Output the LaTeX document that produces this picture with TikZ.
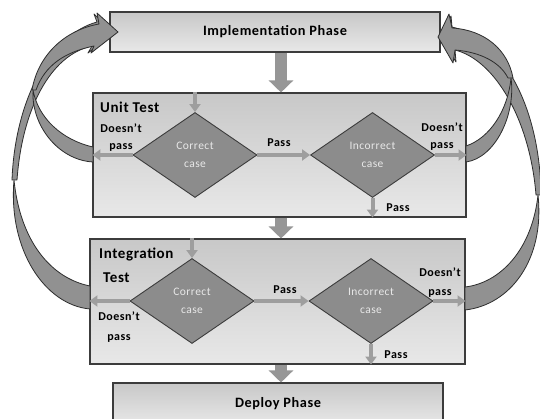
\documentclass[tikz,border=0pt]{standalone}
\usepackage{fontspec}
\setmainfont{Carlito}[LetterSpace=4]
\usetikzlibrary{shapes.geometric,arrows.meta}
\definecolor{boxline}{RGB}{60,60,60}
\definecolor{boxtop}{RGB}{200,200,200}
\definecolor{boxbot}{RGB}{232,232,232}
\definecolor{diafill}{RGB}{140,140,140}
\definecolor{diatext}{RGB}{232,232,232}
\definecolor{smallarr}{RGB}{158,158,158}
\definecolor{curvefill}{RGB}{145,145,145}
\definecolor{curveline}{RGB}{45,45,45}
\definecolor{blockfill}{RGB}{150,150,150}
\begin{document}
\begin{tikzpicture}[x=1pt,y=-1pt,
 phasebox/.style={draw=boxline, line width=1.1pt, top color=boxtop, bottom color=boxbot, minimum width=330pt, minimum height=40pt, inner sep=0pt, font=\fontsize{14.3}{16}\selectfont\bfseries},
 testbox/.style={draw=boxline, line width=1.1pt, top color=boxtop, bottom color=boxbot, inner sep=0pt},
 decision/.style={diamond, draw=boxline, line width=0.9pt, fill=diafill, minimum width=124pt, minimum height=85pt, aspect=1.46, inner sep=0pt, align=center, text=diatext, font=\fontsize{11.5}{18}\selectfont},
 lbl/.style={font=\fontsize{12}{17}\selectfont\bfseries, inner sep=0pt, align=center},
 ttl/.style={font=\fontsize{15}{17}\selectfont\bfseries, inner sep=0pt, anchor=west},
 flow/.style={draw=smallarr, line width=4pt, -{Triangle[width=11pt,length=8pt]}},
 blockarr/.style={draw=blockfill, line width=12pt, -{Triangle[width=24pt,length=12pt]}},
 curved/.style={fill=curvefill, draw=curveline, line width=0.8pt, line join=round}]
\clip (0,0) rectangle (540,419);
\fill[white] (0,0) rectangle (540,419);

% boxes
\node[phasebox] (impl) at (275,32) {Implementation Phase};
\node[testbox, minimum width=373pt, minimum height=124pt] (unit) at (279.5,155) {};
\node[testbox, minimum width=375pt, minimum height=125pt] (integ) at (277.5,301.5) {};
\node[phasebox, minimum height=42pt] (deploy) at (278,404) {Deploy Phase};

% curved return arrows (left)
\path[curved] (12,180) .. controls (15,100) and (50,35) .. (97,22) -- (94,14) -- (114,33) -- (88,53) -- (92,46) .. controls (50,55) and (22,110) .. (17,180) -- cycle;
\path[curved] (90,286) .. controls (50,278) and (20,240) .. (14,180) .. controls (8,250) and (45,305) .. (90,309) -- cycle;
\path[curved] (32,90) .. controls (38,55) and (65,30) .. (99,24) -- (97,13) -- (118,32) -- (91,53) -- (94,46) .. controls (65,52) and (45,65) .. (36,90) -- cycle;
\path[curved] (93,147) .. controls (62,140) and (38,118) .. (33,90) .. controls (31,125) and (58,160) .. (93,162) -- cycle;

% curved return arrows (right)
\path[curved] (541,195) .. controls (540,110) and (505,40) .. (452,27) -- (451,16) -- (441,38) -- (456,62) -- (455,50) .. controls (495,60) and (530,120) .. (536,195) -- cycle;
\path[curved] (465,287) .. controls (500,283) and (532,250) .. (538,195) .. controls (545,260) and (510,305) .. (465,310) -- cycle;
\path[curved] (513,78) .. controls (508,50) and (485,30) .. (452,28) -- (449,14) -- (438,37) -- (453,63) -- (455,50) .. controls (480,52) and (500,62) .. (508,78) -- cycle;
\path[curved] (466,146) .. controls (490,138) and (508,110) .. (511,78) .. controls (516,115) and (495,158) .. (466,162) -- cycle;

% block arrows between phases
\draw[blockarr] ([xshift=6pt]impl.south) -- ([xshift=1.5pt]unit.north);
\draw[blockarr] ([xshift=1.5pt]unit.south) -- ([xshift=3.5pt]integ.north);
\draw[blockarr] ([xshift=3.5pt]integ.south) -- ([xshift=3pt]deploy.north);

% decisions
\node[decision] (uc) at (195,155) {Correct\\case};
\node[decision] (ui) at (372.5,155) {Incorrect\\case};
\node[decision] (ic) at (192,301) {Correct\\case};
\node[decision] (ii) at (371,301) {Incorrect\\case};

% flows unit test
\draw[flow] (uc.north |- unit.north) -- (uc.north);
\draw[flow] (uc.west) -- (uc.west -| unit.west);
\draw[flow] (uc.east) -- (ui.west);
\draw[flow] (ui.east) -- (ui.east -| unit.east);
\draw[flow] (ui.south) -- (ui.south |- unit.south);
% flows integration test
\draw[flow] (ic.north |- integ.north) -- (ic.north);
\draw[flow] (ic.west) -- (ic.west -| integ.west);
\draw[flow] (ic.east) -- (ii.west);
\draw[flow] (ii.east) -- (ii.east -| integ.east);
\draw[flow] (ii.south) -- (ii.south |- integ.south);

% labels
\node[ttl] (ut) at (100,107) {Unit Test};
\node[lbl] (udl) at (121,137.5) {Doesn’t\\pass};
\node[lbl] (up1) at (279,143) {Pass};
\node[lbl] (udr) at (442,136.5) {Doesn’t\\pass};
\node[lbl] (up2) at (398,208) {Pass};

\node[ttl] (it1) at (99,254) {Integration};
\node[ttl] (it2) at (103,278) {Test};
\node[lbl] (idl) at (119,327) {Doesn’t\\[3pt]pass};
\node[lbl] (ip1) at (285,290) {Pass};
\node[lbl] (idr) at (440,282.5) {Doesn’t\\[2pt]pass};
\node[lbl] (ip2) at (396,355) {Pass};
\end{tikzpicture}
\end{document}
